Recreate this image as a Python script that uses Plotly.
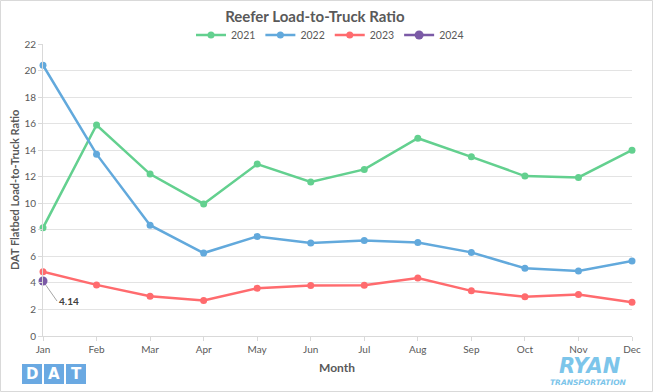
import plotly.graph_objects as go

months = ["Jan", "Feb", "Mar", "Apr", "May", "Jun", "Jul", "Aug", "Sep", "Oct", "Nov", "Dec"]
y2021 = [8.15, 15.9, 12.2, 9.95, 12.95, 11.6, 12.55, 14.9, 13.5, 12.05, 11.95, 14.0]
y2022 = [20.4, 13.7, 8.35, 6.25, 7.5, 7.0, 7.2, 7.05, 6.3, 5.1, 4.9, 5.65]
y2023 = [4.85, 3.85, 3.0, 2.68, 3.6, 3.8, 3.82, 4.37, 3.4, 2.95, 3.12, 2.55]
y2024 = [4.14]
series_names = ["2021", "2022", "2023", "2024"]
colors = ["#63d08f", "#62a9dc", "#ff6b6e", "#7b5aa6"]
marker_sizes = [7, 7, 7, 9]

W, H = 653, 392
L, R, T, B = 43, 21, 44, 56
PW, PH = W - L - R, H - T - B

def px(x):
    return (x - L) / PW

def py(y):
    return (H - B - y) / PH

FONT = "Lato, 'Open Sans', sans-serif"
GRAY = "#595959"

fig = go.Figure()
for name, vals, c, ms in zip(series_names, [y2021, y2022, y2023, y2024], colors, marker_sizes):
    fig.add_trace(go.Scatter(
        x=months[:len(vals)], y=vals, name=name, mode="lines+markers",
        line=dict(color=c, width=2.5), marker=dict(color=c, size=ms),
        cliponaxis=False,
    ))

shapes = [
    dict(type="rect", xref="paper", yref="paper", x0=px(0.5), x1=px(652.5), y0=py(391.5), y1=py(0.5),
         line=dict(color="#d9d9d9", width=1), fillcolor="rgba(0,0,0,0)", layer="below"),
]
# DAT logo squares
dat_letters = ["D", "A", "T"]
annotations = []
for i, ch in enumerate(dat_letters):
    x0 = 22 + i * 22
    shapes.append(dict(type="rect", xref="paper", yref="paper", x0=px(x0), x1=px(x0 + 20),
                       y0=py(384), y1=py(364), line=dict(width=0), fillcolor="#6aa9e2"))
    annotations.append(dict(x=px(x0 + 10), y=py(374), xref="paper", yref="paper", text="<b>%s</b>" % ch,
                            showarrow=False, font=dict(family="DejaVu Sans, sans-serif", size=15, color="white"),
                            xanchor="center", yanchor="middle"))

annotations += [
    dict(x=px(590), y=py(366), xref="paper", yref="paper", text="<b><i>RYAN</i></b>", showarrow=False,
         font=dict(family="DejaVu Sans, sans-serif", size=21, color="#7cc5ea"), xanchor="center", yanchor="middle"),
    dict(x=px(588), y=py(382), xref="paper", yref="paper", text="<b><i>TRANSPORTATION</i></b>", showarrow=False,
         font=dict(family="DejaVu Sans, sans-serif", size=7.5, color="#7cc5ea"), xanchor="center", yanchor="middle"),
    dict(x=px(337), y=py(367), xref="paper", yref="paper", text="<b>Month</b>", showarrow=False,
         font=dict(family=FONT, size=12, color=GRAY), xanchor="center", yanchor="middle"),
    dict(x=px(14), y=py(190), xref="paper", yref="paper", text="<b>DAT Flatbed Load-to-Truck Ratio</b>",
         showarrow=False, textangle=-90, font=dict(family=FONT, size=11, color=GRAY),
         xanchor="center", yanchor="middle"),
    dict(x="Jan", y=y2024[0], text="<b>4.14</b>", showarrow=True, arrowhead=0, arrowwidth=1,
         arrowcolor="#a6a6a6", ax=14, ay=20, font=dict(family=FONT, size=10, color="#404040"),
         xanchor="left", standoff=5),
]

fig.update_layout(
    width=W, height=H,
    margin=dict(l=L, r=R, t=T, b=B),
    paper_bgcolor="white", plot_bgcolor="white",
    font=dict(family=FONT, color=GRAY),
    title=dict(text="<b>Reefer Load-to-Truck Ratio</b>", x=px(327), xanchor="center",
               y=1 - 17 / H, yanchor="middle", font=dict(family=FONT, size=15, color=GRAY)),
    legend=dict(orientation="h", x=px(330), xanchor="center", y=py(35), yanchor="middle",
                font=dict(family=FONT, size=10.5, color=GRAY), itemwidth=30, tracegroupgap=0,
                bgcolor="rgba(0,0,0,0)"),
    shapes=shapes,
    annotations=annotations,
    showlegend=True,
)
fig.update_xaxes(type="category", range=[0, 11], showgrid=False, showline=True, linecolor="#d9d9d9",
                 ticks="outside", ticklen=4, tickcolor="#d9d9d9", tickson="labels",
                 tickfont=dict(family=FONT, size=10, color=GRAY), fixedrange=True)
fig.update_yaxes(range=[0, 22], dtick=2, showgrid=True, gridcolor="#e3e3e3", showline=True,
                 linecolor="#d9d9d9", ticks="outside", ticklen=4, tickcolor="#d9d9d9",
                 zeroline=False, tickfont=dict(family=FONT, size=10, color=GRAY))

fig.write_html("out.html", config={"displayModeBar": False},
               post_script="document.body.style.margin='0';document.body.style.padding='0';")
